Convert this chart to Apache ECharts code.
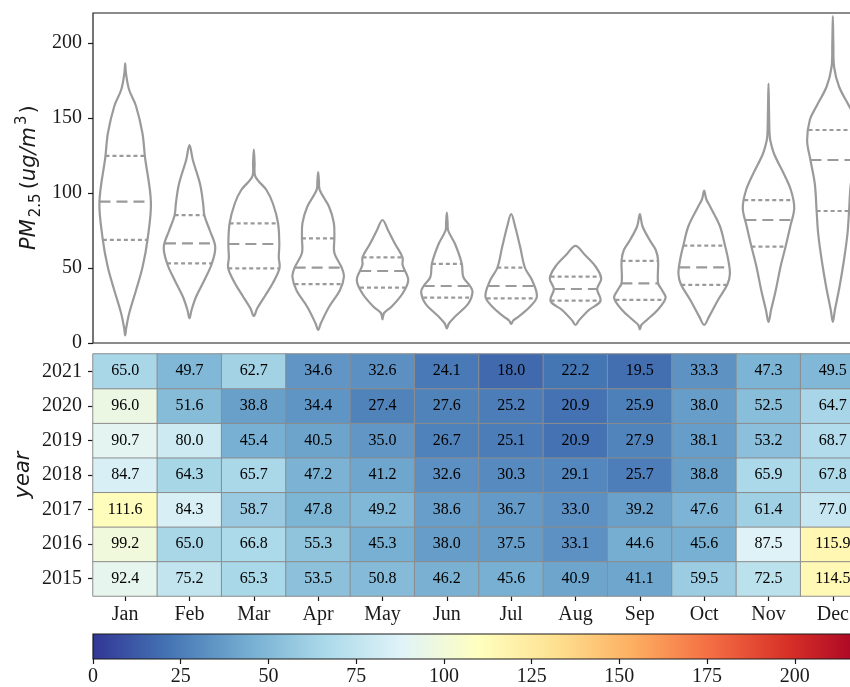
<!DOCTYPE html>
<html>
<head>
<meta charset="utf-8">
<script src="https://cdn.jsdelivr.net/npm/echarts@6/dist/echarts.min.js"></script>
<style>
  html, body { margin: 0; padding: 0; background: #fff; overflow: hidden; }
  #chart { width: 880px; height: 687px; }
</style>
</head>
<body>
<div id="chart"></div>
<script>
// ---- categories ----
const months = ['Jan', 'Feb', 'Mar', 'Apr', 'May', 'Jun', 'Jul', 'Aug', 'Sep', 'Oct', 'Nov', 'Dec'];
const years = ['2015', '2016', '2017', '2018', '2019', '2020', '2021'];

// ---- monthly mean PM2.5 per year (heatmap) ----
const pm2015 = [92.4, 75.2, 65.3, 53.5, 50.8, 46.2, 45.6, 40.9, 41.1, 59.5, 72.5, 114.5];
const pm2016 = [99.2, 65.0, 66.8, 55.3, 45.3, 38.0, 37.5, 33.1, 44.6, 45.6, 87.5, 115.9];
const pm2017 = [111.6, 84.3, 58.7, 47.8, 49.2, 38.6, 36.7, 33.0, 39.2, 47.6, 61.4, 77.0];
const pm2018 = [84.7, 64.3, 65.7, 47.2, 41.2, 32.6, 30.3, 29.1, 25.7, 38.8, 65.9, 67.8];
const pm2019 = [90.7, 80.0, 45.4, 40.5, 35.0, 26.7, 25.1, 20.9, 27.9, 38.1, 53.2, 68.7];
const pm2020 = [96.0, 51.6, 38.8, 34.4, 27.4, 27.6, 25.2, 20.9, 25.9, 38.0, 52.5, 64.7];
const pm2021 = [65.0, 49.7, 62.7, 34.6, 32.6, 24.1, 18.0, 22.2, 19.5, 33.3, 47.3, 49.5];

// ---- violin outlines: [PM2.5 value, relative half-width of the density] ----
const profileJan = [[5, 0], [10, 0.04], [20, 0.16], [35, 0.42], [51, 0.68], [69, 0.87], [94, 1], [124, 0.77], [140, 0.67], [158, 0.42], [169, 0.15], [180, 0.03], [186.5, 0]];
const profileFeb = [[16.4, 0], [22, 0.08], [31, 0.26], [42, 0.58], [53, 0.87], [64, 1], [75, 0.79], [85, 0.58], [93, 0.53], [106, 0.41], [122, 0.13], [132, 0]];
const profileMar = [[18, 0], [23, 0.13], [31, 0.42], [40, 0.74], [50, 1], [57, 0.97], [66, 0.99], [80, 0.94], [93, 0.74], [102, 0.49], [111, 0.06], [120, 0.03], [129, 0]];
const profileApr = [[8.7, 0], [13, 0.1], [24, 0.42], [35, 0.84], [44, 1], [50, 0.92], [60, 0.63], [70, 0.63], [80, 0.61], [91, 0.42], [102, 0.06], [108, 0.03], [114, 0]];
const profileMay = [[15.8, 0], [20, 0.06], [24, 0.34], [33, 0.78], [42, 1], [52, 0.78], [57, 0.78], [66, 0.49], [75, 0.22], [82, 0]];
const profileJun = [[9.8, 0], [13, 0.08], [17.6, 0.32], [26.4, 0.84], [34, 1], [38, 0.9], [44, 0.64], [53, 0.58], [66, 0.32], [75, 0.05], [80, 0.03], [87, 0]];
const profileJul = [[12.7, 0], [15, 0.08], [17.6, 0.29], [24, 0.72], [31, 1], [42, 0.81], [50, 0.54], [64, 0.35], [78, 0.15], [86, 0]];
const profileAug = [[12, 0], [15, 0.13], [22, 0.52], [28, 0.97], [36, 0.84], [43, 1], [51, 0.78], [59, 0.35], [64.7, 0]];
const profileSep = [[9.1, 0], [12, 0.06], [15, 0.25], [22, 0.69], [30, 1], [35, 0.87], [40, 0.71], [55, 0.71], [62, 0.62], [69, 0.37], [78, 0.1], [86, 0]];
const profileOct = [[12, 0], [17.6, 0.19], [29, 0.55], [39, 0.9], [46, 1], [55, 0.94], [65, 0.81], [78, 0.61], [91, 0.23], [96, 0.08], [101.6, 0]];
const profileNov = [[14, 0], [22, 0.1], [35, 0.28], [51, 0.47], [64, 0.66], [78, 0.85], [90, 1], [102, 0.87], [113, 0.59], [126, 0.22], [135, 0.07], [140, 0.04], [155, 0.02], [173, 0]];
const profileDec = [[14, 0], [22, 0.08], [37.5, 0.26], [55, 0.43], [73, 0.57], [88, 0.63], [106, 0.7], [122, 0.87], [135, 1], [149, 0.89], [158, 0.63], [171, 0.24], [184, 0.05], [200, 0.02], [218, 0]];

// ---- quartiles of each month's distribution ----
const lowerQuartile = [68.7, 53.1, 49.8, 39.3, 36.9, 30.2, 29.8, 28.2, 28.7, 38.7, 64.2, 88];
const medianValue = [94.2, 66.4, 66, 50.2, 48, 38, 38, 36, 39.8, 50.4, 82, 122];
const upperQuartile = [124.7, 85.3, 79.8, 69.8, 57.1, 52.7, 50.2, 44.2, 54.7, 64.9, 95.3, 142];

// ---- colour scale ----
const colorRange = [0, 220];
const colorbarTicks = [0, 25, 50, 75, 100, 125, 150, 175, 200];
const rdYlBuR = ['#313695', '#4575b4', '#74add1', '#abd9e9', '#e0f3f8', '#ffffbf', '#fee090', '#fdae61', '#f46d43', '#d73027', '#a50026'];

const profiles = [profileJan, profileFeb, profileMar, profileApr, profileMay, profileJun,
                  profileJul, profileAug, profileSep, profileOct, profileNov, profileDec];
const yearRows = [pm2015, pm2016, pm2017, pm2018, pm2019, pm2020, pm2021];

const SERIF = "'Liberation Serif', 'Times New Roman', serif";
const SANS = "'DejaVu Sans', sans-serif";
const VIOLIN = '#9a9a9a';
const INK = '#1a1a1a';

const heatData = [];
yearRows.forEach((row, j) => row.forEach((v, i) => heatData.push([i, j, v])));

function halfWidthAt(profile, v) {
  for (let k = 0; k < profile.length - 1; k++) {
    const a = profile[k], b = profile[k + 1];
    if (v >= a[0] && v <= b[0]) {
      const t = (v - a[0]) / (b[0] - a[0]);
      return a[1] + t * (b[1] - a[1]);
    }
  }
  return 0;
}

function renderViolin(params, api) {
  const i = api.value(0);
  const prof = profiles[i];
  const cx = api.coord([i, 0])[0];
  const maxHW = api.size([1, 0])[0] * 0.4;
  const pts = [];
  // left flank, bottom to top
  for (let k = 0; k < prof.length; k++) {
    const y = api.coord([i, prof[k][0]])[1];
    pts.push([cx - prof[k][1] * maxHW, y]);
  }
  // right flank, top to bottom (tips not repeated)
  for (let k = prof.length - 2; k >= 1; k--) {
    const y = api.coord([i, prof[k][0]])[1];
    pts.push([cx + prof[k][1] * maxHW, y]);
  }
  const children = [{
    type: 'polygon',
    shape: { points: pts, smooth: 0.35 },
    style: { fill: 'none', stroke: VIOLIN, lineWidth: 2.2 }
  }];
  const lines = [
    [lowerQuartile[i], [4, 3]],
    [medianValue[i], [11, 6]],
    [upperQuartile[i], [4, 3]]
  ];
  lines.forEach(([v, dash]) => {
    const y = api.coord([i, v])[1];
    const hw = halfWidthAt(prof, v) * maxHW;
    children.push({
      type: 'line',
      shape: { x1: cx - hw, y1: y, x2: cx + hw, y2: y },
      style: { stroke: VIOLIN, lineWidth: 2.2, lineDash: dash }
    });
  });
  return { type: 'group', children };
}

function renderColorbar(params, api) {
  const p0 = api.coord([api.value(0), 0]);
  const p1 = api.coord([api.value(1), 1]);
  const stops = rdYlBuR.map((c, k) => ({ offset: k / (rdYlBuR.length - 1), color: c }));
  return {
    type: 'rect',
    shape: { x: p0[0], y: p1[1], width: p1[0] - p0[0], height: p0[1] - p1[1] },
    style: {
      fill: new echarts.graphic.LinearGradient(0, 0, 1, 0, stops),
      stroke: INK, lineWidth: 1.2
    }
  };
}

// rotated axis titles
const meas = document.createElement('canvas').getContext('2d');
function textW(t, font) { meas.font = font; return meas.measureText(t).width; }
const titleParts = [
  { t: 'PM', font: 'italic 21px ' + SANS, dx: 0, gap: 2 },
  { t: '2.5', font: '15px ' + SANS, dx: 6, gap: 4 },
  { t: '(', font: '21px ' + SANS, dx: 0, gap: 0 },
  { t: 'ug/m', font: 'italic 21px ' + SANS, dx: 0, gap: 2 },
  { t: '3', font: '15px ' + SANS, dx: -8, gap: 2 },
  { t: ')', font: '21px ' + SANS, dx: 0, gap: 0 }
];
const graphics = [];
let ty = 250;
titleParts.forEach(p => {
  graphics.push({
    type: 'text', x: 30 + p.dx, y: ty, rotation: Math.PI / 2,
    style: { text: p.t, font: p.font, fill: INK, align: 'left', verticalAlign: 'middle', textAlign: 'left', textVerticalAlign: 'middle' }
  });
  ty -= textW(p.t, p.font) + p.gap;
});
graphics.push({
  type: 'text', x: 24, y: 475, rotation: Math.PI / 2,
  style: { text: 'year', font: 'italic 21px ' + SANS, fill: INK, align: 'center', verticalAlign: 'middle', textAlign: 'center', textVerticalAlign: 'middle' }
});

const tickStyle = { color: INK, width: 1.2 };
const labelStyle = { fontFamily: SERIF, fontSize: 20, color: INK };

const chart = echarts.init(document.getElementById('chart'), null, { renderer: 'canvas' });
chart.setOption({
  animation: false,
  backgroundColor: '#fff',
  graphic: graphics,
  grid: [
    { left: 93, top: 13, width: 772, height: 330, show: true, borderColor: INK, borderWidth: 1.2, backgroundColor: 'transparent' },
    { left: 93, top: 354, width: 772, height: 242 },
    { left: 93, top: 634, width: 772, height: 27 }
  ],
  xAxis: [
    { gridIndex: 0, type: 'category', data: months, boundaryGap: true,
      axisLine: { show: false }, axisTick: { show: false }, axisLabel: { show: false }, splitLine: { show: false } },
    { gridIndex: 1, type: 'category', data: months,
      axisLine: { show: false },
      axisTick: { show: true, alignWithLabel: true, length: 5, lineStyle: tickStyle },
      axisLabel: Object.assign({ margin: 9 }, labelStyle), splitLine: { show: false } },
    { gridIndex: 2, type: 'value', min: colorRange[0], max: colorRange[1], interval: 25,
      axisLine: { show: false },
      axisTick: { show: true, length: 5, lineStyle: tickStyle },
      axisLabel: Object.assign({ margin: 8, showMaxLabel: false,
        formatter: v => colorbarTicks.indexOf(v) >= 0 ? String(v) : '' }, labelStyle),
      splitLine: { show: false } }
  ],
  yAxis: [
    { gridIndex: 0, type: 'value', min: 0, max: 220, interval: 50,
      axisLine: { show: false },
      axisTick: { show: true, length: 5, lineStyle: tickStyle },
      axisLabel: Object.assign({ margin: 11, showMaxLabel: false }, labelStyle),
      splitLine: { show: false } },
    { gridIndex: 1, type: 'category', data: years,
      axisLine: { show: false },
      axisTick: { show: true, alignWithLabel: true, length: 5, lineStyle: tickStyle },
      axisLabel: Object.assign({ margin: 11 }, labelStyle), splitLine: { show: false } },
    { gridIndex: 2, type: 'value', min: 0, max: 1, show: false }
  ],
  visualMap: {
    show: false, type: 'continuous', min: colorRange[0], max: colorRange[1],
    dimension: 2, seriesIndex: 1, inRange: { color: rdYlBuR }
  },
  series: [
    { type: 'custom', xAxisIndex: 0, yAxisIndex: 0,
      data: months.map((m, i) => [i, medianValue[i]]),
      renderItem: renderViolin, silent: true },
    { type: 'heatmap', xAxisIndex: 1, yAxisIndex: 1, data: heatData,
      itemStyle: { borderColor: '#8c8c8c', borderWidth: 1 },
      label: { show: true, fontFamily: SERIF, fontSize: 16, color: '#000',
        formatter: p => p.value[2].toFixed(1) },
      emphasis: { disabled: true }, silent: true },
    { type: 'custom', xAxisIndex: 2, yAxisIndex: 2,
      data: [colorRange], renderItem: renderColorbar, silent: true }
  ]
});
</script>
</body>
</html>
